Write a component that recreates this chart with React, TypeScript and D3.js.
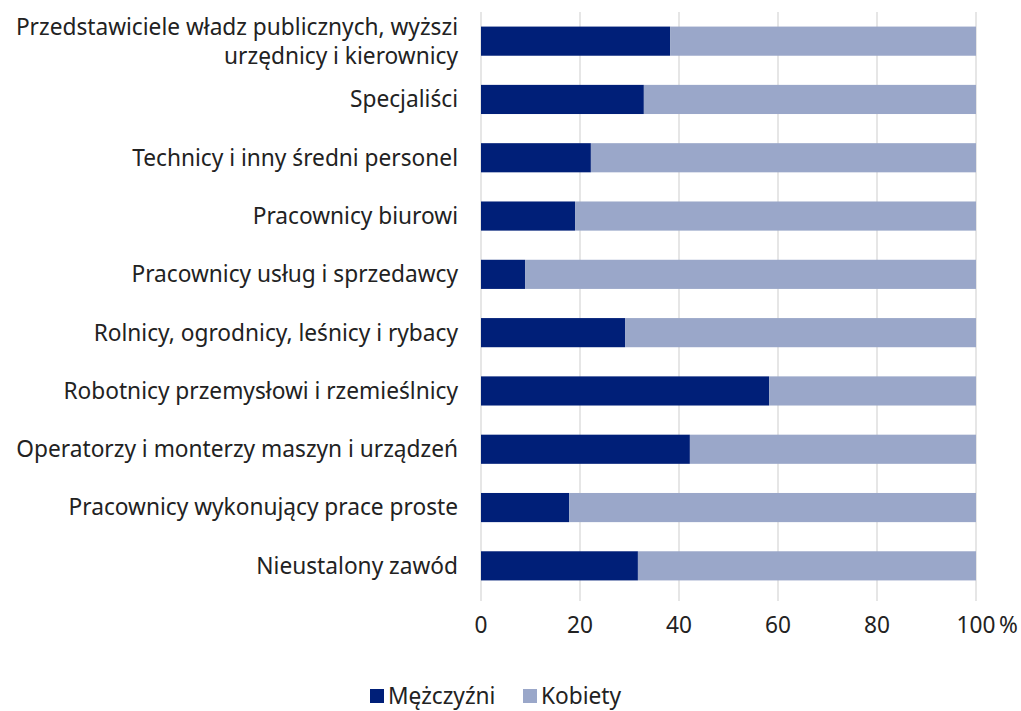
import React from 'react';
import * as d3 from 'd3';

const categories = [
  ['Przedstawiciele władz publicznych, wyższi', 'urzędnicy i kierownicy'],
  ['Specjaliści'],
  ['Technicy i inny średni personel'],
  ['Pracownicy biurowi'],
  ['Pracownicy usług i sprzedawcy'],
  ['Rolnicy, ogrodnicy, leśnicy i rybacy'],
  ['Robotnicy przemysłowi i rzemieślnicy'],
  ['Operatorzy i monterzy maszyn i urządzeń'],
  ['Pracownicy wykonujący prace proste'],
  ['Nieustalony zawód'],
];
const men = [38.2, 32.9, 22.2, 19.0, 8.9, 29.1, 58.2, 42.2, 17.8, 31.7];
const women = men.map((m) => 100 - m);
const ticks = [0, 20, 40, 60, 80, 100];
const legendLabels = ['Mężczyźni', 'Kobiety'];

const W = 1021;
const H = 711;
const margin = { top: 12, right: 45, bottom: 116, left: 481 };
const colors = ['#001f78', '#9aa7c9'];
const font = "'Noto Sans', sans-serif";
const fs = 22.7;

export default function App() {
  const x = d3.scaleLinear().domain([0, 100]).range([margin.left, W - margin.right]);
  const y = d3
    .scaleBand<number>()
    .domain(d3.range(categories.length))
    .range([margin.top, H - margin.bottom])
    .paddingInner(0.5)
    .paddingOuter(0.25);
  const series = [men, women];
  const stack = d3.stack<number>().keys(['0', '1']).value((i, k) => series[+k][i]);
  const stacked = stack(d3.range(categories.length));
  const plotBottom = H - margin.bottom;

  return (
    <div style={{ position: 'absolute', left: 0, top: 0 }}>
      <svg width={W} height={H} style={{ display: 'block', background: '#fff' }}>
        {ticks.map((t) => (
          <line
            key={t}
            x1={x(t)}
            x2={x(t)}
            y1={margin.top}
            y2={plotBottom + 6}
            stroke="#d9d9d9"
            strokeWidth={1.3}
          />
        ))}
        {stacked.map((s, si) =>
          s.map((d, i) => (
            <rect
              key={`${si}-${i}`}
              x={x(d[0])}
              y={y(i)!}
              width={x(d[1]) - x(d[0])}
              height={y.bandwidth()}
              fill={colors[si]}
            />
          ))
        )}
        {categories.map((lines, i) => {
          const cy = y(i)! + y.bandwidth() / 2;
          const lh = 29;
          const start = cy - ((lines.length - 1) * lh) / 2;
          return (
            <text
              key={i}
              x={458}
              textAnchor="end"
              fontFamily={font}
              fontSize={fs}
              fill="#222"
            >
              {lines.map((l, j) => (
                <tspan key={j} x={458} y={start + j * lh} dy="0.35em">
                  {l}
                </tspan>
              ))}
            </text>
          );
        })}
        {ticks.map((t) => (
          <text
            key={t}
            x={x(t)}
            y={625}
            dy="0.35em"
            textAnchor="middle"
            fontFamily={font}
            fontSize={fs}
            fill="#222"
          >
            {t}
          </text>
        ))}
        <text x={x(100) + 23} y={625} dy="0.35em" fontFamily={font} fontSize={fs} fill="#222">
          %
        </text>
        {legendLabels.map((l, i) => {
          const lx = [370, 523][i];
          return (
            <g key={l}>
              <rect x={lx} y={689} width={14} height={14} fill={colors[i]} />
              <text x={lx + 18} y={696} dy="0.35em" fontFamily={font} fontSize={fs} fill="#222">
                {l}
              </text>
            </g>
          );
        })}
      </svg>
    </div>
  );
}
